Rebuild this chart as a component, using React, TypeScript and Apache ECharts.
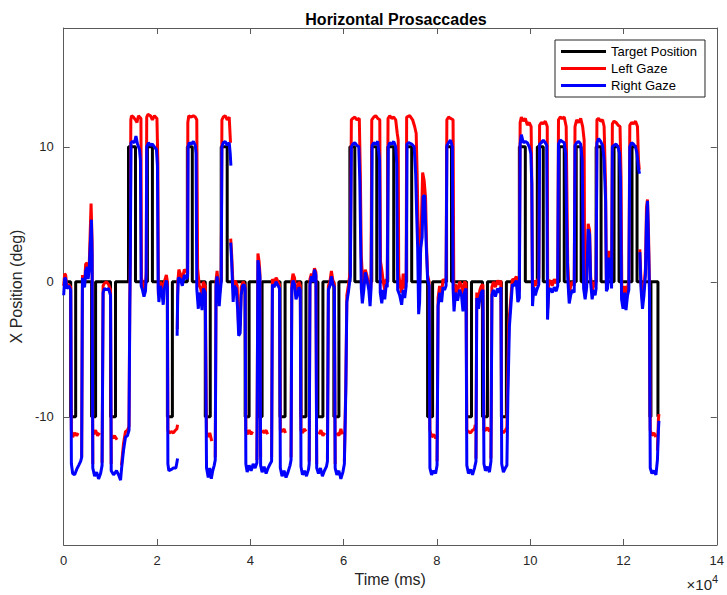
import React, { useEffect, useRef } from 'react';
import * as echarts from 'echarts';

const FONT = "'Liberation Sans', Arial, Helvetica, sans-serif";

// Axis settings
const xMinMs = 0;
const xMaxMs = 140000;
const xTickStepMs = 20000;
const yMinDeg = -19.5;
const yMaxDeg = 18.8;
const yTickValues = [-10, 0, 10];
const xExponentBase = '×10';
const xExponentPower = '4';

// Target position: times (ms) at which the target jumps, and the new level (deg)
const targetTimeMs = [430, 1500, 2570, 5980, 6840, 10040, 11110, 13890, 15390, 17950, 19020, 22230, 23300, 26510, 27570, 30350, 31420, 33770, 35050, 38900, 39750, 41680, 42530, 46380, 47460, 50870, 51940, 54500, 55570, 57920, 59000, 61350, 62410, 66040, 67110, 69470, 70750, 73520, 74600, 78010, 79080, 82080, 83140, 86360, 87420, 89770, 90840, 93830, 94900, 97680, 98960, 101530, 102810, 106230, 107300, 109870, 110930, 114140, 115200, 117980, 119050, 121830, 122910, 125680, 125890, 127390];
const targetDeg = [0, -10, 0, -10, 0, -10, 0, 10, 0, 10, 0, -10, 0, 10, 0, -10, 0, 10, 0, -10, 0, -10, 0, -10, 0, -10, 0, -10, 0, -10, 0, 10, 0, 10, 0, 10, 0, 10, 0, -10, 0, 10, 0, -10, 0, -10, 0, -10, 0, 10, 0, 10, 0, 10, 0, 10, 0, 10, 0, 10, 0, 10, 0, -10, 0, -10];

// Left gaze samples [time ms, deg]; null = missing data (gap)
const leftGaze = [
  [0,-0.3],[220,0.6],[430,0.5],[650,-0.3],[1070,-0.2],[1500,-0.4],
  [1650,-11.0],[1930,-11.5],[2350,-11.2],[2780,-11.4],[3100,-11.2],null,
  [3850,-13.0],[4020,0.5],[4280,0.0],[4480,-0.2],[4700,1.3],[5020,1.4],[5240,0.5],[5450,1.0],[5670,3.5],[5870,5.8],[6090,3.0],[6240,-13.5],null,
  [6410,-11.3],[6840,-11.0],[7260,-11.4],[7690,-11.2],null,
  [8230,-13.4],[8450,-0.3],[8760,-0.1],[9190,0.0],[9620,-0.2],[10040,-0.6],[10190,-13.5],null,
  [10470,-11.6],[10900,-11.4],[11430,-11.7],null,
  [12390,-13.6],[12820,-12.0],[13250,-11.1],[13670,-11.0],[14000,-10.7],[14170,-1.5],[14280,2.0],[14390,12.0],
  [14540,12.3],[14960,12.2],[15390,12.0],[15710,11.8],[16030,12.3],[16560,12.1],[16670,0.3],[16990,-0.3],[17210,-0.8],[17530,-0.4],[17690,0.8],
  [17800,12.2],[18060,12.4],[18600,12.3],[19020,12.0],[19450,12.3],[19990,12.1],[20190,8.8],[20300,-1.0],[20730,0.0],[21160,-0.5],[21580,0.0],[22010,0.5],[22230,0.0],[22340,-11.0],
  [22660,-11.2],[23080,-11.1],[23510,-11.2],[23940,-11.0],[24260,-10.9],[24410,-10.6],null,
  [24360,-3.5],[24470,0.0],[24690,0.9],[25010,0.6],[25430,0.2],[25860,0.9],[26290,0.8],[26570,0.6],
  [26610,11.8],[26820,12.3],[27360,12.2],[27790,12.3],[28210,12.2],[28530,12.0],[28710,1.0],[29070,-0.3],[29380,-0.5],[29670,-1.2],[29920,0.0],[30350,-0.3],
  [30620,-11.2],[30990,-11.5],[31310,-11.2],[31740,-11.8],null,
  [32490,-13.0],[32660,0.1],[32880,0.8],[33130,-0.2],[33340,-1.2],[33550,-0.4],
  [33770,0.4],[33920,12.0],[34200,12.2],[34620,12.3],[35050,12.0],[35480,12.2],[35760,10.3],null,
  [35800,3.2],[36010,2.0],[36330,-0.5],[36770,0.1],[37190,-0.3],[37510,-3.5],[37830,-3.2],[38050,-0.4],[38470,0.0],[38900,-0.3],[39050,-11.0],
  [39330,-11.3],[39750,-11.0],[40180,-11.3],[40510,-11.1],null,
  [41420,-13.2],[41640,2.1],[41890,1.5],[42070,0.6],[42220,-13.0],null,
  [42530,-11.0],[42960,-11.2],[43390,-11.0],[43710,-11.3],null,
  [44570,-13.0],[44740,0.2],[45100,-0.1],[45530,0.3],[45960,0.0],[46270,-0.2],[46440,-11.0],
  [46810,-11.1],[47240,-10.9],[47550,-11.2],null,
  [48740,-13.0],[48900,0.0],[49160,0.6],[49480,0.3],[49800,-0.8],[50120,-0.5],[50440,0.0],[50720,-0.3],[50870,-11.0],
  [51190,-11.2],[51610,-10.9],[51940,-11.1],null,
  [52630,-13.3],[52790,0.2],[53110,0.6],[53440,0.3],[53760,1.0],[54070,0.7],[54240,-13.5],null,
  [54720,-11.3],[55140,-11.0],[55570,-11.4],[56000,-11.2],null,
  [56540,-13.1],[56740,-0.3],[57070,0.0],[57390,0.8],[57710,0.1],[58030,-0.2],[58200,-13.5],null,
  [58560,-11.2],[59000,-11.4],[59420,-10.9],[59740,-11.3],null,
  [60170,-13.3],[60480,-7.5],[60700,-1.0],[61020,-0.3],[61450,0.8],[61670,12.0],
  [61980,12.1],[62410,12.2],[62840,12.0],[63370,12.1],[63590,8.0],[63800,1.9],[64020,0.5],[64340,-0.2],[64650,0.9],[64980,0.5],[65410,-0.2],[65680,-1.0],[65890,-0.1],
  [66040,12.0],[66470,12.2],[66900,12.3],[67330,12.1],[67760,12.0],[67910,1.5],[68190,0.9],[68500,0.0],[68820,-0.6],[69150,0.2],[69360,0.0],
  [69530,12.1],[69890,12.3],[70320,12.1],[70750,12.2],[71170,12.0],[71500,11.0],[71710,10.5],[71820,0.6],[72140,-0.3],[72450,-0.8],[72780,0.6],[73100,-0.5],[73420,0.1],
  [73520,12.2],[74170,12.3],[74800,12.0],[75230,11.5],[75560,11.0],[75770,8.0],[75990,4.0],[76190,-1.0],[76410,1.0],[76620,3.6],[76950,8.1],[77270,7.5],[77580,6.2],[77800,2.5],[78010,0.5],[78340,0.0],[78510,-11.0],
  [78870,-11.5],[79300,-11.3],[79730,-11.6],null,
  [80040,-13.3],[80260,-1.2],[80580,-0.3],[81010,-0.9],[81320,0.2],[81650,0.0],[81970,0.1],
  [82140,12.0],[82510,12.2],[82930,12.1],[83470,12.0],[83620,0.0],[83790,-1.5],[83990,-0.2],[84430,-0.8],[84860,0.0],[85280,-0.3],[85600,-1.0],[85920,0.0],[86250,-0.1],[86420,-11.0],
  [86770,-11.1],[87210,-11.2],[87640,-11.0],[88060,-10.9],[88230,-10.6],null,
  [88380,-13.1],[88550,-0.8],[88920,-1.3],[89230,-0.6],[89550,-0.3],[89880,-0.2],[90090,-11.0],
  [90410,-11.0],[90840,-10.8],[91270,-11.1],null,
  [91590,-13.1],[91800,-0.4],[92120,0.0],[92550,-0.4],[92980,0.1],[93400,-0.2],[93720,0.1],[93900,-11.0],
  [94260,-11.2],[94680,-11.0],[95010,-10.8],[95160,-7.8],[95440,-3.0],[95860,-1.2],[96180,0.2],[96610,0.1],[97030,0.4],[97360,-0.9],[97680,-0.6],
  [97850,11.8],[98110,12.2],[98530,11.9],[98960,12.1],[99390,11.6],[99810,11.8],[100200,11.5],[100350,7.5],[100500,-1.2],[100780,0.1],[101100,-0.3],[101420,0.0],[101850,0.3],
  [102020,11.6],[102380,11.8],[102810,11.7],[103240,11.9],[103660,11.5],[103770,-2.0],[103980,0.0],[104310,0.1],[104730,-0.3],[105160,0.2],[105590,-0.1],[105900,0.2],
  [106070,12.0],[106440,12.2],[106870,12.1],[107300,12.2],[107720,11.5],[107890,6.2],[108050,1.4],[108370,-1.0],[108680,-0.3],[109000,0.0],[109440,-0.3],
  [109610,11.5],[109960,12.0],[110390,11.8],[110830,12.1],[111250,11.5],[111570,10.5],[111680,-0.2],[111890,-0.8],[112110,0.2],[112430,4.3],[112740,3.8],[112960,0.4],[113280,-0.8],[113600,0.0],[113920,-0.4],[114130,0.0],
  [114310,12.0],[114670,12.1],[115100,11.9],[115520,12.0],[115850,11.5],[116170,7.0],[116340,-0.2],[116590,0.0],[116910,2.3],[117240,1.4],[117450,0.0],
  [117620,11.7],[117980,11.9],[118410,11.8],[118840,11.6],[119260,11.5],[119480,7.8],[119650,-0.8],[119910,-1.5],[120230,-0.3],[120540,-1.4],[120870,-0.4],[121150,0.0],
  [121360,11.6],[121720,11.8],[122150,11.7],[122580,11.9],[123000,11.5],[123220,9.0],[123390,8.3],null,
  [123500,2.4],[123760,0.0],[124080,-1.4],[124390,-0.4],[124710,1.0],[124930,5.5],[125150,6.1],[125360,3.8],[125570,-0.3],[125740,-11.0],
  [126100,-11.4],[126530,-11.2],[126960,-11.5],null,
  [127280,-12.5],[127490,-10.2],[127600,-9.8]
];

// Right gaze samples [time ms, deg]; null = missing data (gap)
const rightGaze = [
  [0,-1.0],[220,0.3],[430,0.2],[650,-0.5],[1070,-0.3],[1500,-0.6],
  [1650,-13.5],[1930,-14.2],[2350,-14.3],[2780,-13.9],[3210,-13.6],[3630,-13.3],[3850,-13.0],[4020,0.3],[4280,-0.3],[4480,-0.4],[4700,0.8],[5020,1.1],[5240,0.2],[5450,0.8],[5670,2.5],[5940,4.6],[6090,2.0],
  [6240,-13.8],[6630,-14.4],[7060,-14.1],[7480,-14.6],[7910,-14.2],[8230,-13.6],[8450,-0.8],[8760,-0.5],[9190,-0.6],[9620,-0.5],[10040,-1.0],
  [10190,-14.0],[10690,-14.3],[11330,-14.0],[11760,-14.3],[12190,-14.7],[12390,-13.9],[12820,-12.5],[13250,-11.5],[13670,-11.4],[14000,-11.0],[14170,-2.0],[14280,1.6],[14430,10.3],
  [14750,10.4],[15170,10.3],[15490,10.8],[15820,10.2],[16250,9.8],[16450,9.0],[16610,-0.3],[16890,-0.6],[17210,-1.1],[17530,-0.7],[17690,0.5],
  [17800,10.0],[18170,10.3],[18600,10.1],[19020,10.2],[19450,10.0],[19880,9.8],[20100,8.6],[20260,-0.5],[20410,-1.5],[20730,-0.3],[21060,-0.8],[21340,-1.7],[21580,-0.5],[22010,0.1],[22230,-0.4],
  [22340,-13.5],[22550,-14.0],[23080,-13.9],[23510,-13.8],[24050,-13.8],[24260,-13.4],[24410,-13.1],null,
  [24320,-4.0],[24430,-1.0],[24580,0.3],[25010,0.2],[25430,-0.3],[25860,0.5],[26290,0.2],[26570,0.4],
  [26670,10.0],[26930,10.3],[27360,10.2],[27790,10.4],[28210,10.1],[28380,9.5],[28530,-0.5],[28860,-2.0],[29070,-0.8],[29380,-1.2],[29670,-2.1],[29920,-0.5],[30350,-0.8],
  [30620,-13.8],[30990,-14.5],[31310,-13.8],[31640,-14.6],[31950,-14.0],[32270,-13.6],[32490,-13.2],[32660,-0.3],[32880,0.4],[33130,-0.6],[33340,-1.8],[33550,-0.8],
  [33770,0.0],[33920,10.0],[34200,10.3],[34620,10.4],[35050,10.1],[35480,10.3],[35700,9.5],[35840,8.6],null,
  [35800,2.9],[36010,1.5],[36330,-1.5],[36550,-0.3],[36980,-0.5],[37290,-2.0],[37510,-4.0],[37830,-3.8],[38050,-1.0],[38370,-0.3],[38680,-0.2],[38900,-0.5],
  [39050,-13.5],[39330,-14.1],[39750,-13.6],[40180,-14.0],[40610,-13.5],[41030,-13.8],[41420,-13.4],[41640,1.6],[41890,1.0],[42070,0.3],
  [42220,-13.6],[42530,-14.1],[42960,-13.7],[43390,-14.2],[43810,-13.8],[44240,-13.5],[44570,-13.3],[44740,-0.2],[45100,-0.4],[45530,0.0],[45960,-0.3],[46270,-0.5],
  [46440,-13.8],[46810,-14.4],[47240,-14.0],[47660,-14.5],[48090,-14.1],[48520,-13.6],[48740,-13.2],[48900,-0.5],[49160,0.1],[49480,-0.2],[49800,-1.3],[50120,-1.0],[50440,-0.4],[50720,-0.6],
  [50870,-13.7],[51190,-14.3],[51610,-14.0],[52040,-14.4],[52480,-13.9],[52630,-13.5],[52790,-0.2],[53110,0.4],[53440,0.0],[53760,0.9],[54070,0.5],
  [54240,-13.8],[54610,-14.2],[55040,-13.8],[55460,-14.4],[55890,-14.0],[56320,-13.7],[56540,-13.3],[56740,-0.6],[57070,-0.3],[57390,0.4],[57710,-0.2],[58030,-0.4],
  [58200,-13.8],[58560,-14.3],[59000,-14.0],[59420,-14.6],[59850,-14.1],[60170,-13.5],[60480,-8.0],[60700,-1.5],[61020,-0.8],[61450,0.4],[61670,10.0],
  [61980,10.2],[62410,10.3],[62840,10.1],[63260,10.0],[63480,7.5],[63800,-0.5],[64020,-1.6],[64340,-0.6],[64650,0.7],[64980,0.2],[65410,-0.6],[65680,-1.8],[65890,-0.5],
  [66110,10.1],[66470,10.3],[66900,10.2],[67330,10.4],[67710,9.0],[67860,-0.8],[68190,-1.6],[68500,-0.6],[68820,-1.3],[69150,-0.2],[69360,-0.4],
  [69580,10.0],[69890,10.3],[70320,10.2],[70750,10.4],[71170,10.0],[71390,8.8],[71600,-0.6],[72030,-1.0],[72450,-1.7],[72780,-0.6],[73100,-1.2],[73420,-0.3],
  [73590,10.2],[73950,10.3],[74600,10.2],[75130,10.0],[75450,8.0],[75670,5.0],[75880,2.5],[76090,-2.4],[76300,-1.5],[76520,2.5],[76840,3.3],[77050,6.3],[77380,6.4],[77690,3.0],[78010,0.2],[78340,-0.3],
  [78510,-13.8],[78870,-14.3],[79300,-14.0],[79730,-14.2],[80040,-13.6],[80260,-1.8],[80580,-0.8],[81010,-1.5],[81320,-0.4],[81650,-0.6],[81970,-0.3],
  [82140,10.1],[82510,10.3],[82930,10.5],[83320,10.0],[83470,-0.5],[83680,-2.2],[83990,-0.8],[84430,-1.4],[84860,-0.6],[85280,-1.0],[85600,-2.2],[85920,-0.8],[86250,-0.5],
  [86420,-13.6],[86770,-14.2],[87210,-13.9],[87640,-14.3],[88060,-13.8],[88380,-13.3],[88550,-1.2],[88920,-2.0],[89230,-1.2],[89550,-0.8],[89880,-0.6],
  [90090,-13.5],[90410,-14.0],[90840,-13.7],[91270,-14.1],[91590,-13.3],[91800,-1.0],[92120,-0.6],[92550,-1.1],[92980,-0.5],[93400,-0.8],[93720,-0.4],
  [93900,-13.5],[94260,-14.1],[94680,-13.8],[95010,-13.6],[95220,-8.5],[95550,-3.3],[95860,-1.8],[96180,-0.2],[96610,-0.3],[97030,0.1],[97360,-1.5],[97680,-1.2],
  [97850,10.2],[98110,10.9],[98530,10.3],[98960,10.4],[99390,10.3],[99810,10.0],[100140,9.5],[100350,7.2],[100500,-1.8],[100780,-0.4],[101100,-1.0],[101420,-0.6],[101850,-0.2],
  [102020,10.2],[102380,10.3],[102810,10.5],[103240,10.3],[103550,10.1],[103720,-2.8],[103980,-0.6],[104310,-0.5],[104730,-0.8],[105160,-0.4],[105590,-0.7],[105900,-0.3],
  [106070,10.2],[106440,10.5],[106870,10.4],[107300,10.3],[107610,9.5],[107830,4.3],[108050,0.3],[108370,-1.6],[108680,-1.0],[109000,-0.6],[109440,-0.8],
  [109610,10.1],[109960,10.3],[110390,10.4],[110830,10.2],[111150,9.0],[111460,-0.5],[111780,-1.3],[112110,-0.4],[112430,3.9],[112740,3.5],[112960,0.0],[113280,-1.3],[113600,-0.6],[113920,-1.0],[114130,-0.5],
  [114310,10.3],[114670,10.6],[115100,10.4],[115520,10.1],[115850,9.0],[116170,6.0],[116340,-0.7],[116590,-0.5],[116910,1.8],[117240,1.0],[117450,-0.5],
  [117620,10.0],[117980,10.1],[118410,10.2],[118840,10.0],[119150,9.5],[119370,7.5],[119590,-1.3],[119910,-2.0],[120230,-0.8],[120540,-2.1],[120870,-1.0],[121150,-0.6],
  [121360,10.0],[121720,10.3],[122150,10.2],[122580,10.0],[122900,9.5],[123220,8.4],[123430,8.0],null,
  [123500,2.2],[123760,-0.5],[124080,-2.0],[124390,-1.0],[124710,0.5],[124930,4.5],[125150,6.0],[125360,3.0],[125570,-0.8],
  [125740,-13.8],[126100,-14.2],[126530,-14.0],[126960,-14.3],[127280,-13.2],[127490,-11.0],[127600,-10.3]
];

const seriesNames = ['Target Position', 'Left Gaze', 'Right Gaze'];
const seriesColors = ['#000000', '#ff0000', '#0000ff'];

function toLineData(samples: any[]) {
  return samples.map((p) => (p === null ? '-' : p));
}

export default function App() {
  const ref = useRef<HTMLDivElement>(null);

  useEffect(() => {
    if (!ref.current) return;
    const chart = echarts.init(ref.current, null, { renderer: 'svg' });
    const axisColor = '#5a5a5a';
    const textColor = '#262626';

    const xAxisBase = {
      type: 'value',
      min: xMinMs,
      max: xMaxMs,
      interval: xTickStepMs,
      splitLine: { show: false },
      axisLine: { show: true, onZero: false, lineStyle: { color: axisColor, width: 1 } },
      axisTick: { show: true, inside: true, length: 6, lineStyle: { color: axisColor } },
    };
    const yAxisBase = {
      type: 'value',
      min: yMinDeg,
      max: yMaxDeg,
      splitLine: { show: false },
      axisLine: { show: true, onZero: false, lineStyle: { color: axisColor, width: 1 } },
      axisTick: { show: true, inside: true, length: 6, customValues: yTickValues, lineStyle: { color: axisColor } },
    };

    const option = {
      animation: false,
      backgroundColor: '#ffffff',
      textStyle: { fontFamily: FONT },
      title: {
        text: 'Horizontal Prosaccades',
        left: 391,
        top: 6,
        textAlign: 'center',
        textStyle: { fontFamily: FONT, fontSize: 16, fontWeight: 'bold', color: '#000' },
      },
      grid: { left: 63, right: 9, top: 28, bottom: 50, containLabel: false },
      legend: {
        data: seriesNames,
        orient: 'vertical',
        left: 555,
        top: 40,
        icon: 'rect',
        itemWidth: 45,
        itemHeight: 3,
        itemGap: 4,
        padding: [5, 8, 5, 6],
        borderColor: '#262626',
        borderWidth: 1,
        backgroundColor: '#ffffff',
        selectedMode: false,
        textStyle: { fontFamily: FONT, fontSize: 13, color: '#000' },
      },
      xAxis: [
        {
          ...xAxisBase,
          position: 'bottom',
          name: 'Time (ms)',
          nameLocation: 'middle',
          nameGap: 25,
          nameTextStyle: { fontFamily: FONT, fontSize: 16, color: textColor },
          axisLabel: {
            show: true,
            margin: 9,
            fontFamily: FONT,
            fontSize: 13,
            color: textColor,
            formatter: (v: number) => String(v / 10000),
          },
        },
        { ...xAxisBase, position: 'top', axisLabel: { show: false } },
      ],
      yAxis: [
        {
          ...yAxisBase,
          position: 'left',
          name: 'X Position (deg)',
          nameLocation: 'middle',
          nameGap: 36,
          nameRotate: 90,
          nameTextStyle: { fontFamily: FONT, fontSize: 16, color: textColor },
          axisLabel: { show: true, margin: 10, fontFamily: FONT, fontSize: 13, color: textColor, customValues: yTickValues },
        },
        { ...yAxisBase, position: 'right', axisLabel: { show: false } },
      ],
      graphic: [
        {
          type: 'text',
          x: 712,
          y: 592,
          silent: true,
          style: {
            text: xExponentBase,
            font: `15px ${FONT}`,
            fill: textColor,
            textAlign: 'right',
            textVerticalAlign: 'bottom',
          },
        },
        {
          type: 'text',
          x: 712,
          y: 573,
          silent: true,
          style: {
            text: xExponentPower,
            font: `11px ${FONT}`,
            fill: textColor,
            textAlign: 'left',
            textVerticalAlign: 'top',
          },
        },
      ],
      series: [
        {
          name: seriesNames[0],
          type: 'line',
          xAxisIndex: 0,
          yAxisIndex: 0,
          step: 'end',
          data: targetTimeMs.map((t, i) => [t, targetDeg[i]]),
          showSymbol: false,
          symbol: 'none',
          silent: true,
          color: seriesColors[0],
          lineStyle: { color: seriesColors[0], width: 3 },
          z: 2,
        },
        {
          name: seriesNames[1],
          type: 'line',
          xAxisIndex: 0,
          yAxisIndex: 0,
          data: toLineData(leftGaze),
          connectNulls: false,
          showSymbol: false,
          symbol: 'none',
          silent: true,
          color: seriesColors[1],
          lineStyle: { color: seriesColors[1], width: 3 },
          z: 3,
        },
        {
          name: seriesNames[2],
          type: 'line',
          xAxisIndex: 0,
          yAxisIndex: 0,
          data: toLineData(rightGaze),
          connectNulls: false,
          showSymbol: false,
          symbol: 'none',
          silent: true,
          color: seriesColors[2],
          lineStyle: { color: seriesColors[2], width: 3 },
          z: 4,
        },
      ],
    };

    chart.setOption(option as any);
    return () => chart.dispose();
  }, []);

  return (
    <div
      ref={ref}
      style={{ position: 'fixed', left: 0, top: 0, width: 727, height: 595, background: '#ffffff' }}
    />
  );
}
